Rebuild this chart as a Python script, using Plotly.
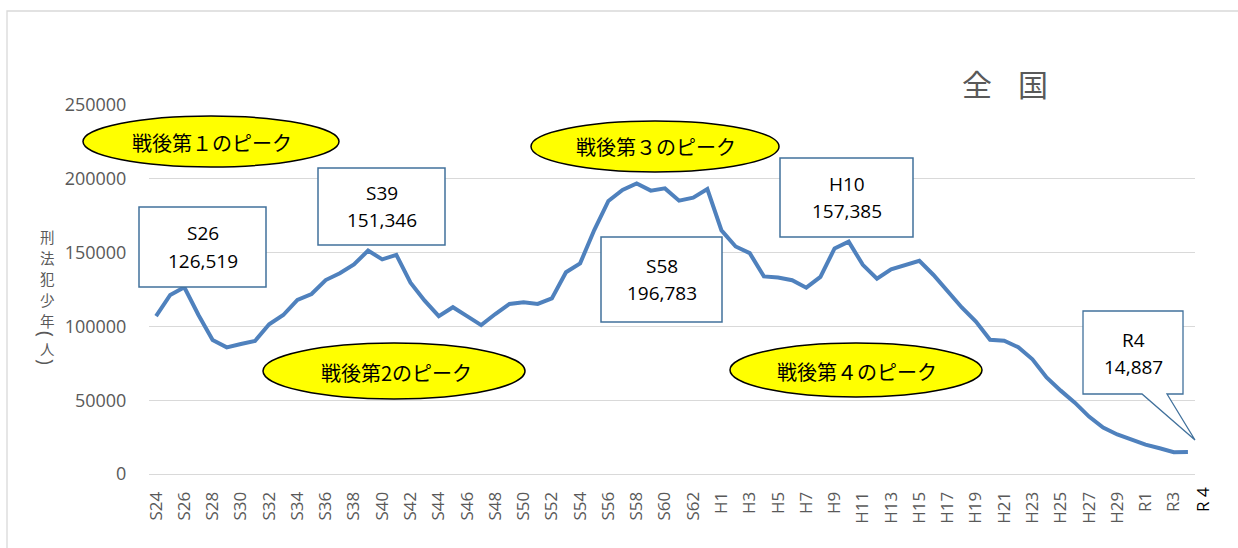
import plotly.graph_objects as go

# ---- data ----
categories = [
    "S24", "S25", "S26", "S27", "S28", "S29", "S30", "S31", "S32", "S33",
    "S34", "S35", "S36", "S37", "S38", "S39", "S40", "S41", "S42", "S43",
    "S44", "S45", "S46", "S47", "S48", "S49", "S50", "S51", "S52", "S53",
    "S54", "S55", "S56", "S57", "S58", "S59", "S60", "S61", "S62", "S63",
    "H1", "H2", "H3", "H4", "H5", "H6", "H7", "H8", "H9", "H10",
    "H11", "H12", "H13", "H14", "H15", "H16", "H17", "H18", "H19", "H20",
    "H21", "H22", "H23", "H24", "H25", "H26", "H27", "H28", "H29", "H30",
    "R1", "R2", "R3", "R4",
]
offenders = [
    107000, 121300, 126519, 107700, 90800, 85800, 88100, 90100, 101400, 107700,
    117900, 121950, 131400, 136000, 142000, 151346, 145400, 148400, 129600, 117400,
    107000, 113000, 107000, 100900, 108400, 115200, 116300, 115200, 119000, 136700,
    142700, 165300, 185000, 192400, 196783, 192000, 193500, 185200, 187200, 193100,
    165053, 154168, 149663, 133882, 133132, 131268, 126249, 133581, 152825, 157385,
    141721, 132336, 138654, 141775, 144404, 134847, 123715, 112817, 103224, 90966,
    90282, 85846, 77696, 65448, 56469, 48361, 38921, 31516, 26797, 23489,
    19914, 17466, 14818, 14887,
]
tick_labels = categories[0:73:2]
y_ticks = [0, 50000, 100000, 150000, 200000, 250000]
peak_labels = ["戦後第１のピーク", "戦後第2のピーク", "戦後第３のピーク", "戦後第４のピーク"]
callouts = [("S26", "126,519"), ("S39", "151,346"), ("S58", "196,783"), ("H10", "157,385"), ("R4", "14,887")]
title_chars = ["全", "国"]
ytitle_chars = ["刑", "法", "犯", "少", "年", "(", "人", ")"]

# ---- layout geometry (pixels) ----
W, H = 1238, 548
L, T, PW, PH = 149, 105, 1046, 369


def px(x):
    return (x - L) / PW


def py(y):
    return (T + PH - y) / PH


GRAY = "#595959"
LINEBLUE = "#4F81BD"
BOXBLUE = "#41719C"
JP = "Noto Sans CJK JP"
LAT = "Open Sans"

fig = go.Figure()
fig.add_trace(go.Scatter(
    x=categories, y=offenders, mode="lines",
    line=dict(color=LINEBLUE, width=4), hoverinfo="x+y",
))

shapes = []
annotations = []

# outer chart border
shapes.append(dict(type="rect", xref="paper", yref="paper", x0=px(7), x1=px(1260), y0=py(11), y1=py(570),
                   line=dict(color="#D9D9D9", width=1.3), fillcolor="rgba(0,0,0,0)", layer="below"))

# yellow ellipses
ellipses = [(83, 116, 339, 167, 212, 142), (263, 343, 525, 399, 396, 372),
            (531, 121, 779, 172, 656, 146), (730, 343, 982, 397, 857, 371)]
for (x0, y0, x1, y1, tx, ty), lab in zip(ellipses, peak_labels):
    shapes.append(dict(type="circle", xref="paper", yref="paper", x0=px(x0), x1=px(x1), y0=py(y1), y1=py(y0),
                       line=dict(color="black", width=1.5), fillcolor="#FFFF00", layer="above"))
    annotations.append(dict(xref="paper", yref="paper", x=px(tx), y=py(ty), text=lab, showarrow=False,
                            xanchor="center", yanchor="middle", font=dict(family=JP, size=20, color="black")))

# rectangular callouts
rects = [(139, 207, 266, 287), (318, 168, 445, 245), (601, 237, 722, 322), (780, 158, 913, 237)]
for (x0, y0, x1, y1), (a, b) in zip(rects, callouts[:4]):
    shapes.append(dict(type="rect", xref="paper", yref="paper", x0=px(x0), x1=px(x1), y0=py(y1), y1=py(y0),
                       line=dict(color=BOXBLUE, width=1.5), fillcolor="white", layer="above"))
    cx = (x0 + x1) / 2
    cy = (y0 + y1) / 2
    annotations.append(dict(xref="paper", yref="paper", x=px(cx), y=py(cy - 13.5), text=a, showarrow=False,
                            xanchor="center", yanchor="middle", font=dict(family=LAT, size=19, color="black")))
    annotations.append(dict(xref="paper", yref="paper", x=px(cx), y=py(cy + 13.5), text=b, showarrow=False,
                            xanchor="center", yanchor="middle", font=dict(family=LAT, size=19, color="black")))

# R4 speech-bubble callout
pts = [(1083, 311), (1183, 311), (1183, 394), (1167, 394), (1195, 440), (1142, 394), (1083, 394)]
path = "M " + " L ".join(f"{px(x):.5f},{py(y):.5f}" for x, y in pts) + " Z"
shapes.append(dict(type="path", xref="paper", yref="paper", path=path,
                   line=dict(color=BOXBLUE, width=1.3), fillcolor="white", layer="above"))
annotations.append(dict(xref="paper", yref="paper", x=px(1133), y=py(340), text=callouts[4][0], showarrow=False,
                        xanchor="center", yanchor="middle", font=dict(family=LAT, size=19, color="black")))
annotations.append(dict(xref="paper", yref="paper", x=px(1133), y=py(367), text=callouts[4][1], showarrow=False,
                        xanchor="center", yanchor="middle", font=dict(family=LAT, size=19, color="black")))

# extra "R 4" axis label
annotations.append(dict(xref="paper", yref="paper", x=px(1202), y=py(500), text="R 4", textangle=-90,
                        showarrow=False, xanchor="center", yanchor="middle", bgcolor="white",
                        font=dict(family=LAT, size=17, color="black")))

# title
for ch, x in zip(title_chars, [977, 1033]):
    annotations.append(dict(xref="paper", yref="paper", x=px(x), y=py(83), text=ch, showarrow=False,
                            xanchor="center", yanchor="middle", font=dict(family=JP, size=30, color=GRAY)))

# vertical y-axis title, one character per annotation (parentheses turned to vertical form)
for ch, y in zip(ytitle_chars, [236, 257, 278, 299, 320, 334, 348, 362]):
    is_paren = ch in "()"
    annotations.append(dict(xref="paper", yref="paper", x=px(47), y=py(y), text=ch, showarrow=False,
                            textangle=90 if is_paren else 0, borderpad=0,
                            xanchor="center", yanchor="middle",
                            font=dict(family=LAT if is_paren else JP, size=20 if is_paren else 14.5,
                                      color=GRAY)))

fig.update_layout(
    width=W, height=H,
    margin=dict(l=L, r=W - L - PW, t=T, b=H - T - PH),
    paper_bgcolor="white", plot_bgcolor="white",
    showlegend=False,
    shapes=shapes, annotations=annotations,
    xaxis=dict(type="category", range=[-0.5, len(categories) - 0.5], tickmode="array",
               tickvals=tick_labels, ticktext=tick_labels, tickangle=-90,
               showgrid=False, showline=False, zeroline=False,
               ticks="outside", ticklen=10, tickcolor="rgba(0,0,0,0)",
               tickfont=dict(family=LAT, size=17, color=GRAY)),
    yaxis=dict(range=[0, 250000], tickmode="array", tickvals=y_ticks, tickformat="d",
               showgrid=True, gridcolor="#D9D9D9", gridwidth=1.3,
               zeroline=True, zerolinecolor="#D9D9D9", zerolinewidth=1.3, showline=False,
               ticks="outside", ticklen=18, tickcolor="rgba(0,0,0,0)",
               tickfont=dict(family=LAT, size=18, color=GRAY)),
)

fig.write_html("out.html", config={"displayModeBar": False},
               post_script="document.body.style.margin='0';document.body.style.overflow='hidden';")
